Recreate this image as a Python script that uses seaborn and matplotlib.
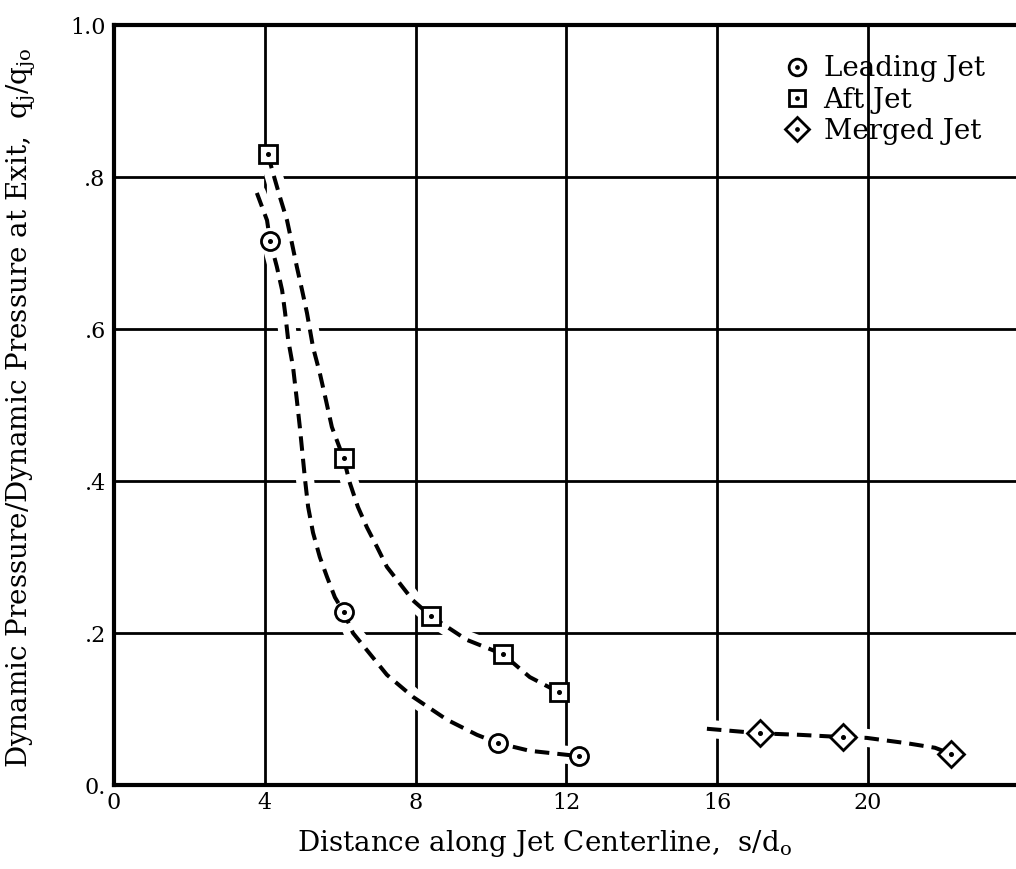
import matplotlib
matplotlib.use("Agg")
import matplotlib.pyplot as plt
from matplotlib.lines import Line2D
import seaborn as sns
import pandas as pd

# DATA ==========================================================================

lead_x = [4.14, 6.10, 10.19, 12.33]
lead_y = [0.716, 0.227, 0.055, 0.038]
aft_x = [4.08, 6.09, 8.41, 10.32, 11.80]
aft_y = [0.830, 0.430, 0.222, 0.172, 0.122]
merged_x = [17.14, 19.34, 22.20]
merged_y = [0.068, 0.063, 0.041]

# faired dashed curves
lead_curve_x = [3.79, 4.06, 4.14, 4.32, 4.46, 4.54, 4.62, 4.75, 4.85, 4.93, 4.99, 5.07, 5.15, 5.28,
                5.46, 5.65, 5.86, 6.10, 6.34, 7.24, 7.93, 8.83, 9.63, 10.19, 11.03, 12.33]
lead_curve_y = [0.779, 0.743, 0.716, 0.682, 0.651, 0.621, 0.586, 0.550, 0.507, 0.471, 0.441, 0.401, 0.366, 0.332,
                0.300, 0.274, 0.247, 0.227, 0.200, 0.145, 0.116, 0.086, 0.066, 0.055, 0.045, 0.038]
aft_curve_x = [4.08, 4.22, 4.40, 4.59, 4.72, 4.85, 4.99, 5.12, 5.28, 5.46, 5.62, 5.78, 6.09, 6.26, 6.47,
               6.71, 6.98, 7.24, 7.93, 8.41, 9.36, 10.32, 11.03, 11.80]
aft_curve_y = [0.830, 0.805, 0.774, 0.743, 0.713, 0.682, 0.651, 0.621, 0.576, 0.542, 0.507, 0.471, 0.430, 0.397, 0.366,
               0.339, 0.313, 0.287, 0.243, 0.222, 0.191, 0.172, 0.142, 0.122]
merged_curve_x = [15.73, 17.14, 18.20, 19.34, 19.97, 21.03, 21.78, 22.20]
merged_curve_y = [0.074, 0.068, 0.066, 0.063, 0.062, 0.055, 0.049, 0.041]

x_ticks = [0, 4, 8, 12, 16, 20]
x_tick_labels = ["0", "4", "8", "12", "16", "20"]
y_ticks = [0.0, 0.2, 0.4, 0.6, 0.8, 1.0]
y_tick_labels = ["0.", ".2", ".4", ".6", ".8", "1.0"]

series_names = ["Leading Jet", "Aft Jet", "Merged Jet"]
series_markers = {"Leading Jet": "o", "Aft Jet": "s", "Merged Jet": "D"}
series_sizes = {"Leading Jet": 13, "Aft Jet": 13, "Merged Jet": 13.5}

# PLOTTER =======================================================================

sns.set_style("white")
plt.rcParams["font.family"] = ["DejaVu Serif"]
plt.rcParams["mathtext.fontset"] = "dejavuserif"
plt.rcParams["text.color"] = "black"
plt.rcParams["axes.labelcolor"] = "black"

points = pd.concat([
    pd.DataFrame({"x": lead_x, "y": lead_y, "series": "Leading Jet"}),
    pd.DataFrame({"x": aft_x, "y": aft_y, "series": "Aft Jet"}),
    pd.DataFrame({"x": merged_x, "y": merged_y, "series": "Merged Jet"}),
])
curves = [
    pd.DataFrame({"x": lead_curve_x, "y": lead_curve_y}),
    pd.DataFrame({"x": aft_curve_x, "y": aft_curve_y}),
    pd.DataFrame({"x": merged_curve_x, "y": merged_curve_y}),
]

fig = plt.figure(figsize=(10.16, 8.69), dpi=100)
ax = fig.add_axes([114 / 1016, 1 - 785 / 869, (1016 - 114) / 1016, 760 / 869])

for c in curves:
    # white band so the grid breaks around the curves, like the original
    sns.lineplot(x="x", y="y", data=c, sort=False, color="white", lw=13, zorder=1.5, ax=ax)
    sns.lineplot(x="x", y="y", data=c, sort=False, color="black", lw=2.9,
                 linestyle=(0, (3.6, 2.0)), zorder=3, ax=ax)

for name in series_names:
    sub = points[points["series"] == name]
    ms = series_sizes[name]
    ax.plot(sub["x"], sub["y"], ls="none", marker=series_markers[name], ms=ms,
            mfc="white", mec="black", mew=2.0, zorder=4)
    ax.plot(sub["x"], sub["y"], ls="none", marker="o", ms=2.6, color="black", zorder=5)

ax.set_xlim(0, 23.93)
ax.set_ylim(0, 1.0)
ax.set_xticks(x_ticks)
ax.set_xticklabels(x_tick_labels)
ax.set_yticks(y_ticks)
ax.set_yticklabels(y_tick_labels)
ax.tick_params(axis="both", length=0, labelsize=16, colors="black")
ax.tick_params(axis="x", pad=5)
ax.tick_params(axis="y", pad=6)

ax.grid(True, color="black", lw=2.0)
ax.set_axisbelow(True)
for side in ["left", "bottom", "top"]:
    ax.spines[side].set_color("black")
    ax.spines[side].set_linewidth(3.0)
ax.spines["right"].set_visible(False)

ax.set_xlabel(r"Distance along Jet Centerline,  s/$\mathregular{d_o}$", fontsize=20)
ax.set_ylabel(r"Dynamic Pressure/Dynamic Pressure at Exit,  $\mathregular{q_j/q_{jo}}$", fontsize=20)
ax.xaxis.set_label_coords(0.477, -0.056)
ax.yaxis.set_label_coords(-0.084, 0.497)

handles = []
for name in series_names:
    h1 = Line2D([], [], ls="none", marker=series_markers[name], ms=series_sizes[name] - 1,
                mfc="white", mec="black", mew=2.0)
    h2 = Line2D([], [], ls="none", marker="o", ms=2.4, color="black")
    handles.append((h1, h2))
ax.legend(handles, series_names, loc="upper left", bbox_to_anchor=(0.742, 0.96),
          frameon=False, fontsize=20, handlelength=1.0, handletextpad=0.45,
          labelspacing=0.15, borderaxespad=0, borderpad=0)

plt.savefig("out.png", dpi=100)
